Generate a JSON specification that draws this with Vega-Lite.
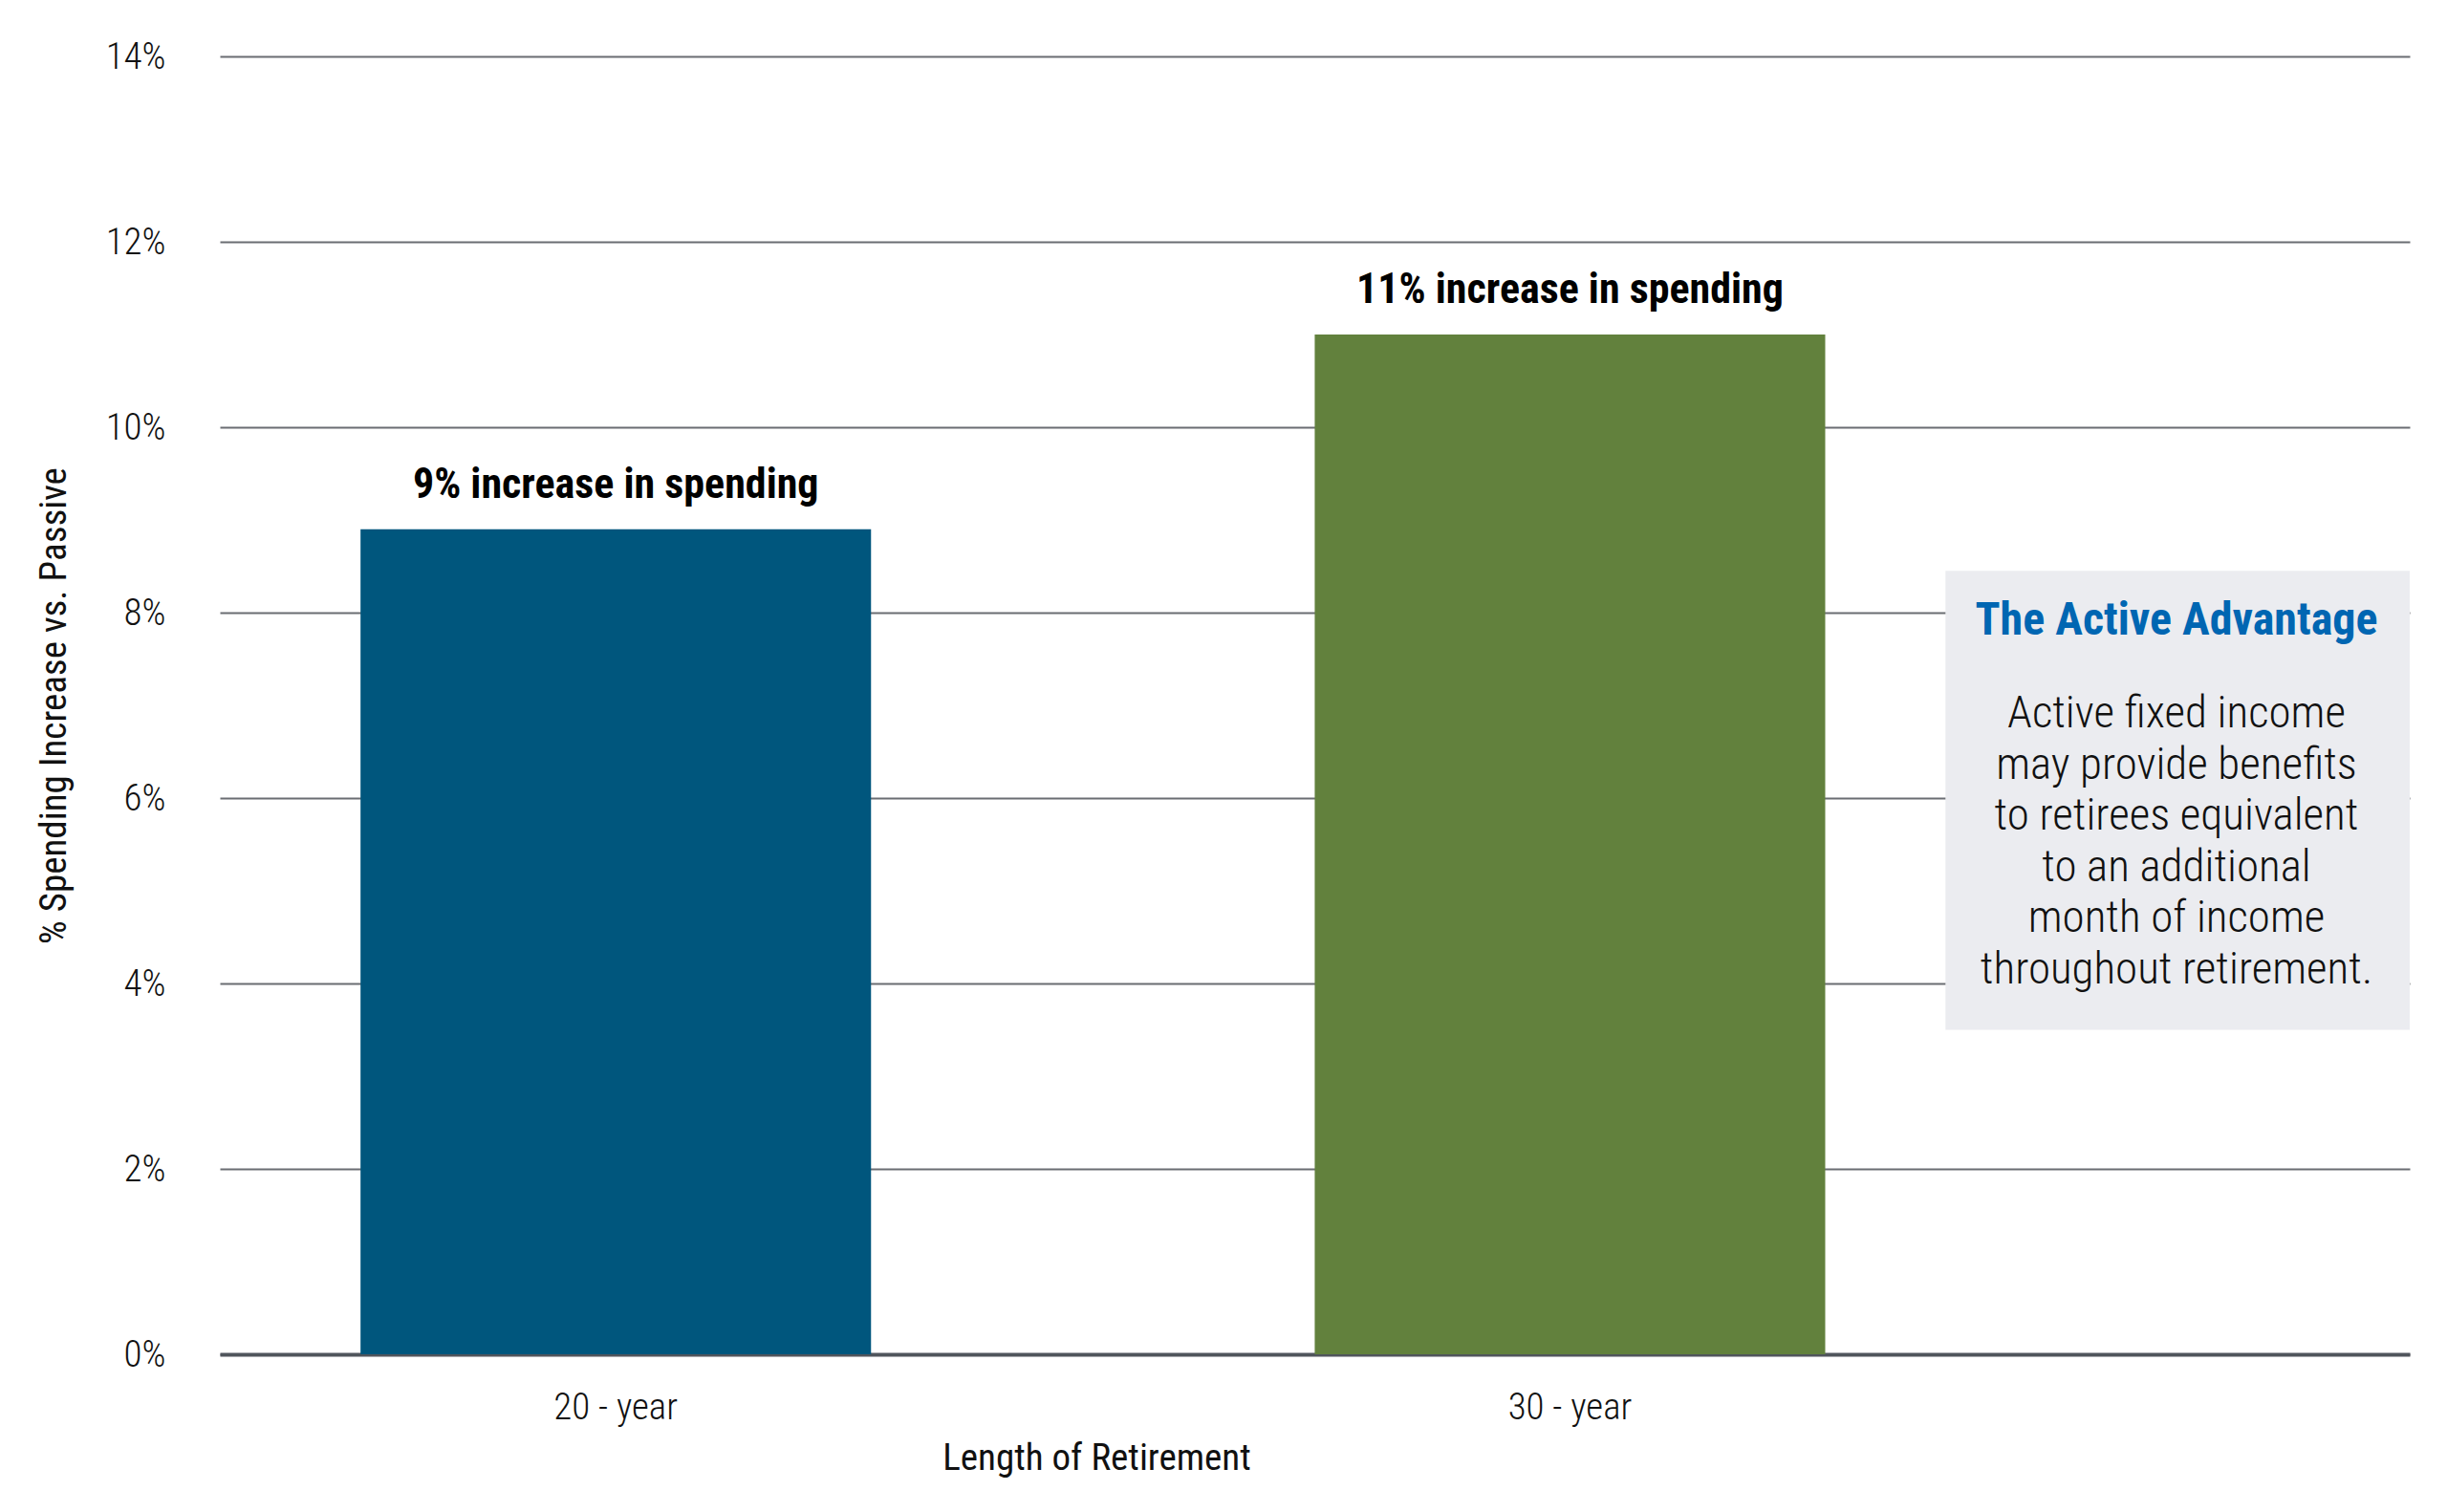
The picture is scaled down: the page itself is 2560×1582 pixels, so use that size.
{
  "$schema": "https://vega.github.io/schema/vega-lite/v6.json",
  "width": 2291,
  "height": 1358,
  "autosize": {"type": "none"},
  "padding": {"left": 230, "top": 59, "right": 39, "bottom": 165},
  "background": "white",
  "config": {
    "view": {"stroke": null},
    "font": "Roboto Condensed, Roboto, sans-serif"
  },
  "layer": [
    {
      "data": {
        "values": [
          {"length": "20 - year", "value": 8.9, "label": "9% increase in spending"},
          {"length": "30 - year", "value": 11.0, "label": "11% increase in spending"}
        ]
      },
      "encoding": {
        "x": {
          "field": "length",
          "type": "nominal",
          "scale": {"paddingInner": 0.465, "paddingOuter": 0.38, "align": 0.194},
          "axis": {
            "title": "Length of Retirement",
            "labelAngle": 0,
            "ticks": false,
            "grid": false,
            "domainColor": "#50555c",
            "domainWidth": 4,
            "labelFontSize": 39,
            "labelFontWeight": 300,
            "labelColor": "#111111",
            "labelBaseline": "alphabetic",
            "labelPadding": 67,
            "titleFontSize": 39,
            "titleFontWeight": 400,
            "titleColor": "#111111",
            "titleX": 917,
            "titleY": 120,
            "titleAlign": "center",
            "titleBaseline": "alphabetic"
          }
        },
        "y": {
          "field": "value",
          "type": "quantitative",
          "scale": {"domain": [0, 14]},
          "axis": {
            "title": "% Spending Increase vs. Passive",
            "values": [0, 2, 4, 6, 8, 10, 12, 14],
            "labelExpr": "datum.value + '%'",
            "domain": false,
            "ticks": false,
            "tickSize": 0,
            "grid": true,
            "gridColor": "#6a6d72",
            "gridWidth": 2,
            "labelPadding": 57,
            "labelBaseline": "alphabetic",
            "labelOffset": 12,
            "labelFontSize": 39,
            "labelFontWeight": 300,
            "labelColor": "#111111",
            "titleFontSize": 39,
            "titleFontWeight": 400,
            "titleColor": "#111111",
            "titleX": -174,
            "titleY": 679,
            "titleAngle": 270,
            "titleAlign": "center",
            "titleBaseline": "middle"
          }
        }
      },
      "layer": [
        {
          "mark": {"type": "bar"},
          "encoding": {
            "color": {
              "field": "length",
              "type": "nominal",
              "scale": {"range": ["#00567d", "#62813d"]},
              "legend": null
            }
          }
        },
        {
          "mark": {
            "type": "text",
            "baseline": "alphabetic",
            "align": "center",
            "dy": -33,
            "fontSize": 44,
            "fontWeight": "bold",
            "color": "#000000"
          },
          "encoding": {"text": {"field": "label"}}
        }
      ]
    },
    {
      "data": {
        "values": [
          {
            "x1": 0.788,
            "x2": 1.0,
            "y1": 3.5,
            "y2": 8.45,
            "tx": 0.8935,
            "title": "The Active Advantage",
            "ty": 7.76,
            "body": "Active fixed income\nmay provide benefits\nto retirees equivalent\nto an additional\nmonth of income\nthroughout retirement.",
            "by": 6.76
          }
        ]
      },
      "layer": [
        {
          "mark": {"type": "rect", "color": "#ebecf0"},
          "encoding": {
            "x": {"field": "x1", "type": "quantitative", "scale": {"domain": [0, 1]}, "axis": null},
            "x2": {"field": "x2"},
            "y": {"field": "y1", "type": "quantitative", "scale": {"domain": [0, 14]}},
            "y2": {"field": "y2"}
          }
        },
        {
          "mark": {
            "type": "text",
            "baseline": "alphabetic",
            "align": "center",
            "fontSize": 48,
            "fontWeight": "bold",
            "color": "#0066b2"
          },
          "encoding": {
            "x": {"field": "tx", "type": "quantitative", "scale": {"domain": [0, 1]}, "axis": null},
            "y": {"field": "ty", "type": "quantitative", "scale": {"domain": [0, 14]}},
            "text": {"field": "title"}
          }
        },
        {
          "mark": {
            "type": "text",
            "baseline": "alphabetic",
            "align": "center",
            "fontSize": 47,
            "fontWeight": 300,
            "lineHeight": 53.5,
            "lineBreak": "\n",
            "color": "#111111"
          },
          "encoding": {
            "x": {"field": "tx", "type": "quantitative", "scale": {"domain": [0, 1]}, "axis": null},
            "y": {"field": "by", "type": "quantitative", "scale": {"domain": [0, 14]}},
            "text": {"field": "body"}
          }
        }
      ]
    }
  ],
  "resolve": {"scale": {"x": "independent", "color": "independent"}}
}
